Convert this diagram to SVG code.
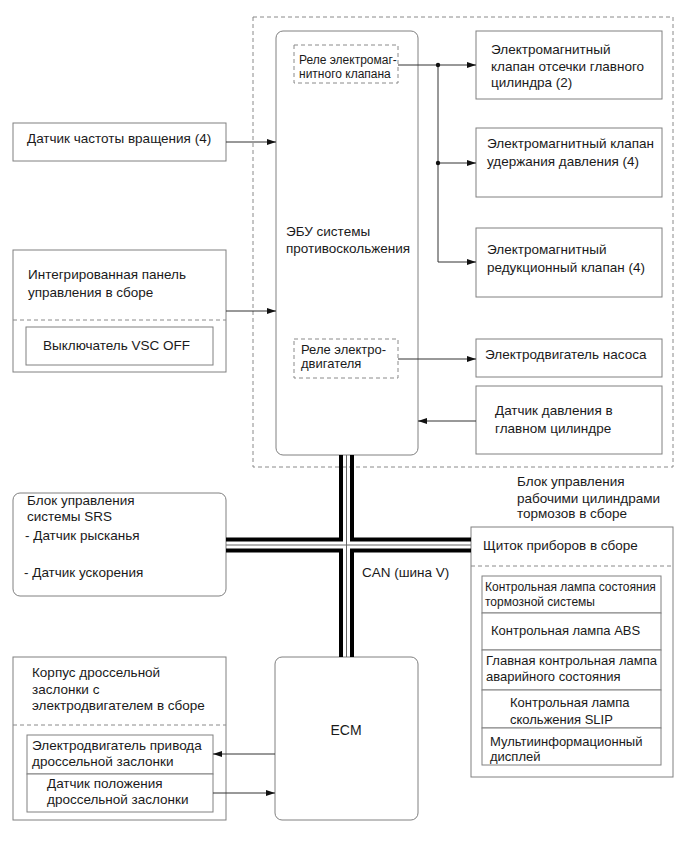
<svg xmlns="http://www.w3.org/2000/svg" width="690" height="853" viewBox="0 0 690 853">
<defs>
<marker id="arr" markerUnits="userSpaceOnUse" markerWidth="9" markerHeight="6" refX="9" refY="3" orient="auto">
<path d="M0,0 L9,3 L0,6 z" fill="#111"/>
</marker>
<style>
text{font-family:"Liberation Sans",Arial,sans-serif;font-size:13.5px;fill:#1a1a1a}
.sm{font-size:12px}
.md{font-size:13px}
.box{fill:#fff;stroke:#808080;stroke-width:1}
.dash{fill:none;stroke:#8a8a8a;stroke-width:1;stroke-dasharray:4,3}
.ln{fill:none;stroke:#333;stroke-width:1}
.bus{fill:none;stroke:#000;stroke-width:4}
.busc{fill:none;stroke:#666;stroke-width:1}
</style>
</defs>
<rect width="690" height="853" fill="#fff"/>

<g id="abs-group-frame">
<rect class="dash" x="253" y="17" width="420" height="450"/>
</g>

<g id="ecu">
<rect class="box" x="276" y="31" width="142" height="424" rx="7"/>
<text x="286" y="236">ЭБУ системы</text>
<text x="286" y="253">противоскольжения</text>
</g>
<g id="relay1">
<rect class="dash" x="294" y="45" width="104" height="38"/>
<text class="sm" x="299" y="64">Реле электромаг-</text>
<text class="sm" x="299" y="78">нитного клапана</text>
</g>
<g id="relay2">
<rect class="dash" x="294" y="339" width="104" height="39"/>
<text class="md" x="301" y="354">Реле электро-</text>
<text class="md" x="301" y="368">двигателя</text>
</g>

<g id="valve-cut">
<rect class="box" x="476" y="31" width="186" height="68"/>
<text x="491" y="54">Электромагнитный</text>
<text x="491" y="71">клапан отсечки главного</text>
<text x="491" y="87">цилиндра (2)</text>
</g>
<g id="valve-hold">
<rect class="box" x="476" y="128" width="186" height="69"/>
<text x="487" y="148">Электромагнитный клапан</text>
<text x="487" y="166">удержания давления (4)</text>
</g>
<g id="valve-reduce">
<rect class="box" x="476" y="228" width="186" height="69"/>
<text x="487" y="254">Электромагнитный</text>
<text x="487" y="272">редукционный клапан (4)</text>
</g>
<g id="pump">
<rect class="box" x="476" y="339" width="186" height="38"/>
<text x="485" y="359">Электродвигатель насоса</text>
</g>
<g id="pressure">
<rect class="box" x="476" y="386" width="186" height="68"/>
<text x="495" y="415">Датчик давления в</text>
<text x="495" y="433">главном цилиндре</text>
</g>

<g id="speed-sensor">
<rect class="box" x="13" y="123" width="213" height="38"/>
<text x="27" y="143">Датчик частоты вращения (4)</text>
</g>
<g id="panel">
<rect class="box" x="13" y="250" width="213" height="122"/>
<text x="28" y="279">Интегрированная панель</text>
<text x="28" y="297">управления в сборе</text>
<line class="dash" x1="13" y1="320" x2="226" y2="320"/>
<rect class="box" x="26" y="327" width="187" height="38"/>
<text x="43" y="350">Выключатель VSC OFF</text>
</g>

<g id="srs">
<rect class="box" x="13" y="493" width="213" height="103" rx="7"/>
<text x="27" y="505">Блок управления</text>
<text x="27" y="521">системы SRS</text>
<text x="25" y="540">- Датчик рысканья</text>
<text x="24" y="577">- Датчик ускорения</text>
</g>

<g id="brake-label">
<text x="517" y="486">Блок управления</text>
<text x="517" y="503">рабочими цилиндрами</text>
<text x="517" y="518">тормозов в сборе</text>
</g>

<g id="cluster">
<rect class="box" x="471" y="527" width="202" height="250"/>
<text x="483" y="550">Щиток приборов в сборе</text>
<line class="dash" x1="471" y1="566" x2="673" y2="566"/>
<rect class="box" x="482" y="576" width="179" height="37"/>
<text class="sm" x="485" y="591">Контрольная лампа состояния</text>
<text class="sm" x="485" y="606">тормозной системы</text>
<rect class="box" x="482" y="613" width="179" height="37"/>
<text class="md" x="491" y="635">Контрольная лампа ABS</text>
<rect class="box" x="482" y="650" width="179" height="40"/>
<text class="md" x="486" y="665">Главная контрольная лампа</text>
<text class="md" x="486" y="681">аварийного состояния</text>
<rect class="box" x="482" y="690" width="179" height="38"/>
<text class="md" x="510" y="707">Контрольная лампа</text>
<text class="md" x="510" y="724">скольжения SLIP</text>
<rect class="box" x="482" y="728" width="179" height="37"/>
<text class="md" x="490" y="746">Мультиинформационный</text>
<text class="md" x="490" y="761">дисплей</text>
</g>

<g id="can-label">
<text x="362" y="577">CAN (шина V)</text>
</g>

<g id="throttle">
<rect class="box" x="13" y="657" width="213" height="163"/>
<text x="32" y="677">Корпус дроссельной</text>
<text x="32" y="694">заслонки с</text>
<text x="32" y="710">электродвигателем в сборе</text>
<line class="dash" x1="13" y1="725" x2="226" y2="725"/>
<rect class="box" x="27" y="735" width="186" height="39"/>
<text x="32" y="750">Электродвигатель привода</text>
<text x="32" y="766">дроссельной заслонки</text>
<rect class="box" x="27" y="774" width="186" height="38"/>
<text x="47" y="788">Датчик положения</text>
<text x="47" y="804">дроссельной заслонки</text>
</g>

<g id="ecm">
<rect class="box" x="275" y="657" width="143" height="163" rx="7"/>
<text x="346" y="735" text-anchor="middle" style="font-size:14px">ECM</text>
</g>

<g id="connectors">
<path class="ln" d="M226,142 H276" marker-end="url(#arr)"/>
<path class="ln" d="M226,311 H276" marker-end="url(#arr)"/>
<path class="ln" d="M398,65 H476" marker-end="url(#arr)"/>
<path class="ln" d="M438,65 V262 H476" marker-end="url(#arr)"/>
<path class="ln" d="M438,163 H476" marker-end="url(#arr)"/>
<circle cx="438" cy="65" r="2.2" fill="#111"/>
<circle cx="438" cy="163" r="2.2" fill="#111"/>
<path class="ln" d="M398,359 H476" marker-end="url(#arr)"/>
<path class="ln" d="M476,421 H418" marker-end="url(#arr)"/>
<path class="ln" d="M275,754 H213" marker-end="url(#arr)"/>
<path class="ln" d="M213,793 H275" marker-end="url(#arr)"/>
</g>

<g id="can-bus">
<path class="bus" d="M341,455 V539.5 H226"/>
<path class="bus" d="M352,455 V539.5 H471"/>
<path class="bus" d="M226,550.5 H341 V657"/>
<path class="bus" d="M471,550.5 H352 V657"/>
<path class="busc" d="M346.5,455 V657 M226,545 H471"/>
</g>
</svg>
